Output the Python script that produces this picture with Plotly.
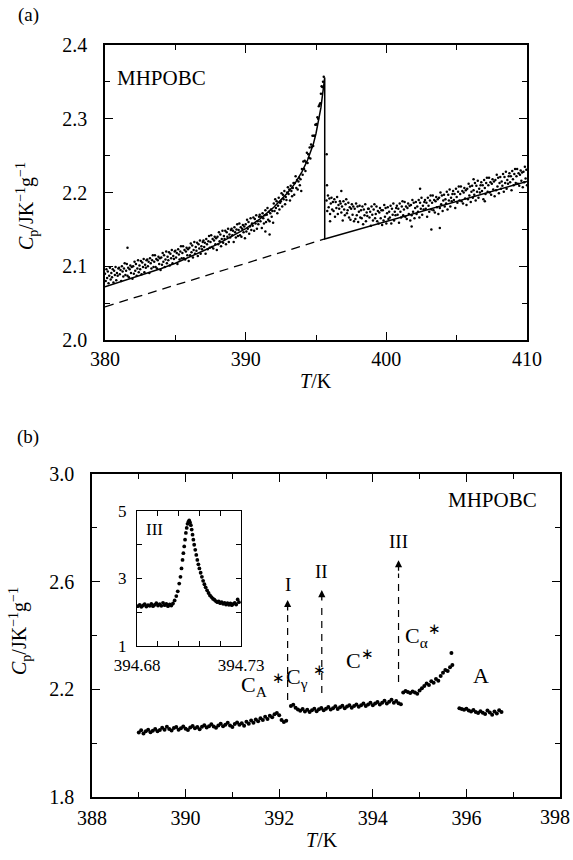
import numpy as np
import plotly.graph_objects as go

FONT = "Liberation Serif"

# ---------------- Panel (a) data ----------------
a_T_left = np.round(np.arange(380.0, 395.551, 0.05), 2)
a_cp_left = [
    2.090, 2.080, 2.096, 2.084, 2.093, 2.077, 2.087, 2.098, 2.082, 2.091,
    2.085, 2.096, 2.078, 2.094, 2.088, 2.099, 2.081, 2.091, 2.087, 2.097,
    2.098, 2.089, 2.095, 2.080, 2.100, 2.093, 2.086, 2.097, 2.104, 2.088,
    2.094, 2.103, 2.087, 2.098, 2.085, 2.096, 2.101, 2.091, 2.099, 2.083,
    2.100, 2.090, 2.106, 2.094, 2.103, 2.087, 2.097, 2.108, 2.092, 2.101,
    2.096, 2.107, 2.089, 2.105, 2.099, 2.110, 2.092, 2.102, 2.098, 2.108,
    2.109, 2.100, 2.106, 2.091, 2.111, 2.104, 2.097, 2.108, 2.115, 2.099,
    2.106, 2.115, 2.099, 2.110, 2.097, 2.108, 2.113, 2.103, 2.111, 2.095,
    2.112, 2.102, 2.118, 2.106, 2.115, 2.099, 2.109, 2.120, 2.104, 2.113,
    2.108, 2.119, 2.101, 2.117, 2.111, 2.122, 2.104, 2.114, 2.110, 2.120,
    2.121, 2.112, 2.118, 2.103, 2.123, 2.116, 2.109, 2.120, 2.127, 2.111,
    2.118, 2.127, 2.111, 2.122, 2.109, 2.120, 2.125, 2.115, 2.123, 2.107,
    2.125, 2.115, 2.131, 2.119, 2.128, 2.112, 2.122, 2.133, 2.117, 2.126,
    2.121, 2.132, 2.114, 2.130, 2.124, 2.135, 2.117, 2.127, 2.123, 2.133,
    2.135, 2.126, 2.132, 2.117, 2.137, 2.130, 2.123, 2.134, 2.141, 2.125,
    2.133, 2.142, 2.126, 2.137, 2.124, 2.135, 2.140, 2.130, 2.138, 2.122,
    2.140, 2.130, 2.146, 2.134, 2.143, 2.127, 2.137, 2.148, 2.132, 2.141,
    2.137, 2.148, 2.130, 2.146, 2.140, 2.151, 2.133, 2.143, 2.139, 2.149,
    2.151, 2.142, 2.148, 2.133, 2.153, 2.146, 2.139, 2.150, 2.157, 2.141,
    2.149, 2.158, 2.142, 2.153, 2.140, 2.151, 2.156, 2.146, 2.154, 2.138,
    2.157, 2.147, 2.163, 2.151, 2.160, 2.144, 2.154, 2.165, 2.149, 2.158,
    2.155, 2.166, 2.148, 2.164, 2.158, 2.169, 2.151, 2.161, 2.157, 2.167,
    2.170, 2.161, 2.167, 2.152, 2.172, 2.165, 2.158, 2.169, 2.176, 2.160,
    2.170, 2.179, 2.163, 2.174, 2.161, 2.172, 2.177, 2.167, 2.175, 2.159,
    2.185, 2.175, 2.191, 2.179, 2.188, 2.172, 2.182, 2.193, 2.177, 2.186,
    2.188, 2.199, 2.181, 2.197, 2.191, 2.202, 2.184, 2.194, 2.190, 2.200,
    2.207, 2.198, 2.204, 2.189, 2.209, 2.202, 2.195, 2.206, 2.213, 2.197,
    2.213, 2.222, 2.206, 2.217, 2.204, 2.215, 2.220, 2.210, 2.218, 2.202,
    2.232, 2.224, 2.242, 2.232, 2.243, 2.229, 2.241, 2.254, 2.240, 2.252,
    2.247, 2.261, 2.246, 2.265, 2.262, 2.277, 2.263, 2.277, 2.277, 2.292,
    2.292, 2.293, 2.302, 2.300, 2.317, 2.319, 2.321, 2.334, 2.344, 2.343,
    2.350, 2.357,
]
a_T_right = np.round(np.arange(395.75, 410.001, 0.05), 2)
a_cp_right = [
    2.189, 2.175, 2.196, 2.180, 2.192, 2.171, 2.185, 2.193, 2.177, 2.187,
    2.175, 2.191, 2.167, 2.187, 2.179, 2.194, 2.171, 2.183, 2.178, 2.188,
    2.185, 2.173, 2.181, 2.162, 2.188, 2.177, 2.169, 2.184, 2.191, 2.172,
    2.176, 2.186, 2.166, 2.180, 2.163, 2.178, 2.184, 2.170, 2.181, 2.161,
    2.178, 2.164, 2.185, 2.169, 2.181, 2.160, 2.174, 2.182, 2.166, 2.176,
    2.165, 2.181, 2.157, 2.177, 2.169, 2.184, 2.161, 2.173, 2.168, 2.178,
    2.178, 2.166, 2.174, 2.155, 2.181, 2.170, 2.162, 2.177, 2.184, 2.165,
    2.171, 2.181, 2.161, 2.175, 2.158, 2.173, 2.179, 2.165, 2.176, 2.156,
    2.176, 2.162, 2.183, 2.167, 2.179, 2.158, 2.172, 2.180, 2.164, 2.174,
    2.166, 2.182, 2.158, 2.178, 2.170, 2.185, 2.162, 2.174, 2.169, 2.179,
    2.182, 2.170, 2.178, 2.159, 2.185, 2.174, 2.166, 2.181, 2.188, 2.169,
    2.177, 2.187, 2.167, 2.181, 2.164, 2.179, 2.185, 2.171, 2.182, 2.162,
    2.183, 2.169, 2.190, 2.174, 2.186, 2.165, 2.179, 2.187, 2.171, 2.181,
    2.174, 2.190, 2.166, 2.186, 2.178, 2.193, 2.170, 2.182, 2.177, 2.187,
    2.190, 2.178, 2.186, 2.167, 2.193, 2.182, 2.174, 2.189, 2.196, 2.177,
    2.186, 2.196, 2.176, 2.190, 2.173, 2.188, 2.194, 2.180, 2.191, 2.171,
    2.193, 2.179, 2.200, 2.184, 2.196, 2.175, 2.189, 2.197, 2.181, 2.191,
    2.185, 2.201, 2.177, 2.197, 2.189, 2.204, 2.181, 2.193, 2.188, 2.198,
    2.202, 2.190, 2.198, 2.179, 2.205, 2.194, 2.186, 2.201, 2.208, 2.189,
    2.198, 2.208, 2.188, 2.202, 2.185, 2.200, 2.206, 2.192, 2.203, 2.183,
    2.205, 2.191, 2.212, 2.196, 2.208, 2.187, 2.201, 2.209, 2.193, 2.203,
    2.197, 2.213, 2.189, 2.209, 2.201, 2.216, 2.193, 2.205, 2.200, 2.210,
    2.214, 2.202, 2.210, 2.191, 2.217, 2.206, 2.198, 2.213, 2.220, 2.201,
    2.210, 2.220, 2.200, 2.214, 2.197, 2.212, 2.218, 2.204, 2.215, 2.195,
    2.217, 2.203, 2.224, 2.208, 2.220, 2.199, 2.213, 2.221, 2.205, 2.215,
    2.209, 2.225, 2.201, 2.221, 2.213, 2.228, 2.205, 2.217, 2.212, 2.222,
    2.226, 2.214, 2.222, 2.203, 2.229, 2.218, 2.210, 2.225, 2.232, 2.213,
    2.222, 2.232, 2.212, 2.226, 2.209, 2.224, 2.230, 2.216, 2.227, 2.207,
    2.228, 2.214, 2.235, 2.219, 2.231, 2.210,
]
a_T_out = [381.6, 391.4, 391.7, 395.76, 395.78, 396.0, 396.8, 401.8, 402.4, 403.2, 403.8, 406.2, 407.0]
a_cp_out = [2.125, 2.147, 2.143, 2.252, 2.210, 2.161, 2.202, 2.154, 2.205, 2.150, 2.152, 2.218, 2.188]

a_fit_T = [380, 381, 382, 383, 384, 385, 386, 387, 388, 389, 390, 391, 392, 392.5,
           393, 393.5, 394, 394.4, 394.8, 395.0, 395.2, 395.35, 395.5, 395.62,
           395.62, 410.0]
a_fit_cp = [2.072, 2.078, 2.084, 2.090, 2.097, 2.104, 2.112, 2.121, 2.130, 2.140,
            2.151, 2.164, 2.180, 2.190, 2.200, 2.212, 2.228, 2.244, 2.265, 2.280,
            2.298, 2.315, 2.338, 2.356, 2.137, 2.215]
a_base_T = [380.0, 395.62]
a_base_cp = [2.045, 2.137]

# ---------------- Panel (b) data ----------------
b_T = np.concatenate([
    np.round(np.arange(389.0, 392.151, 0.05), 2),
    np.round(np.arange(392.25, 394.601, 0.05), 2),
    np.round(np.arange(394.65, 395.701, 0.05), 2),
    np.round(np.arange(395.85, 396.751, 0.05), 2),
    [395.68],
])
b_cp = [
    2.040, 2.048, 2.036, 2.044, 2.050, 2.041, 2.046, 2.053, 2.044, 2.049,
    2.057, 2.050, 2.061, 2.053, 2.047, 2.056, 2.060, 2.050, 2.055, 2.062,
    2.054, 2.049, 2.058, 2.064, 2.055, 2.060, 2.052, 2.061, 2.067, 2.058,
    2.063, 2.070, 2.062, 2.057, 2.066, 2.072, 2.063, 2.068, 2.076, 2.066,
    2.060, 2.071, 2.077, 2.068, 2.074, 2.065, 2.080, 2.072, 2.084, 2.076,
    2.088, 2.081, 2.093, 2.086, 2.098, 2.090, 2.102, 2.096, 2.107, 2.112,
    2.104, 2.086, 2.079, 2.083,
    2.138, 2.143, 2.132, 2.125, 2.120, 2.127, 2.118, 2.124, 2.116, 2.122,
    2.128, 2.119, 2.126, 2.131, 2.122, 2.128, 2.134, 2.125, 2.130, 2.137,
    2.127, 2.133, 2.139, 2.130, 2.136, 2.141, 2.132, 2.138, 2.144, 2.135,
    2.141, 2.147, 2.138, 2.144, 2.150, 2.141, 2.147, 2.153, 2.144, 2.150,
    2.158, 2.147, 2.154, 2.161, 2.150, 2.157, 2.148, 2.145,
    2.188, 2.194, 2.190, 2.186, 2.192, 2.188, 2.184, 2.196, 2.204, 2.212,
    2.222, 2.216, 2.230, 2.224, 2.238, 2.232, 2.250, 2.262, 2.272, 2.268,
    2.282, 2.290,
    2.130, 2.127, 2.124, 2.128, 2.121, 2.118, 2.123, 2.116, 2.112, 2.119,
    2.113, 2.108, 2.121, 2.114, 2.106, 2.118, 2.110, 2.122, 2.116,
    2.335,
]
b_xtick_vals = [388, 390, 392, 394, 396, 398]
b_xtick_text = ["388", "390", "392", "394", "396", ""]
b_last_tick_label = "398"

# inset (transition III)
in_T = [394.6805, 394.6813, 394.6821, 394.6829, 394.6837, 394.6845, 394.6853, 394.6861,
        394.6869, 394.6877, 394.6885, 394.6893, 394.6901, 394.6909, 394.6917, 394.6925,
        394.6933, 394.6941, 394.6949, 394.6957, 394.6965, 394.6973,
        394.6981, 394.6989, 394.6996, 394.7003, 394.7009, 394.7014, 394.7019, 394.7023,
        394.7027, 394.7031, 394.7035, 394.7039, 394.7043, 394.7047, 394.7051, 394.7055,
        394.7059, 394.7063, 394.7067, 394.7071, 394.7075, 394.7080, 394.7085, 394.7090,
        394.7095, 394.7100, 394.7106, 394.7112, 394.7118, 394.7124, 394.7130, 394.7137,
        394.7144, 394.7151, 394.7158, 394.7165, 394.7172, 394.7179, 394.7186, 394.7193,
        394.7200, 394.7207, 394.7214, 394.7221, 394.7228, 394.7235, 394.7242, 394.7249,
        394.7256, 394.7263, 394.7270, 394.7277, 394.7284, 394.7290]
in_cp = [2.18, 2.22, 2.16, 2.20, 2.24, 2.17, 2.21, 2.19, 2.25, 2.18, 2.22, 2.27, 2.20,
         2.24, 2.19, 2.28, 2.21, 2.25, 2.18, 2.23, 2.20, 2.26,
         2.35, 2.48, 2.62, 2.85, 3.05, 3.30, 3.55, 3.75, 3.95, 4.15, 4.35, 4.50, 4.62,
         4.68, 4.72, 4.66, 4.58, 4.45, 4.30, 4.15, 4.00, 3.85, 3.70, 3.55, 3.42, 3.30,
         3.17, 3.05, 2.93, 2.83, 2.74, 2.65, 2.57, 2.50, 2.45, 2.40, 2.37, 2.33, 2.30,
         2.32, 2.27, 2.30, 2.25, 2.28, 2.23, 2.27, 2.22, 2.26, 2.21, 2.25, 2.28, 2.23,
         2.38, 2.30]

# transition markers I, II, III
mark_names = ["I", "II", "III"]
mark_T = [392.18, 392.91, 394.55]
mark_bottom = [2.160, 2.186, 2.227]
mark_tip = [2.532, 2.569, 2.680]
mark_label_y = [2.590, 2.636, 2.750]

# phase labels
STAR = "\u2217"
phase_text = ["C<sub>A</sub> <sup>" + STAR + "</sup>", "C<sub>γ</sub> <sup>" + STAR + "</sup>",
              "C<sup>" + STAR + "</sup>", "C<sub>α</sub><sup>" + STAR + "</sup>", "A"]
phase_T = [391.65, 392.57, 393.73, 395.07, 396.31]
phase_cp = [2.218, 2.248, 2.312, 2.40, 2.253]

# ---------------- Figure ----------------
fig = go.Figure()
dot = dict(color="black", size=2.5)
fig.add_trace(go.Scatter(x=a_T_left, y=a_cp_left, mode="markers", marker=dot, xaxis="x", yaxis="y"))
fig.add_trace(go.Scatter(x=a_T_right, y=a_cp_right, mode="markers", marker=dot, xaxis="x", yaxis="y"))
fig.add_trace(go.Scatter(x=a_T_out, y=a_cp_out, mode="markers", marker=dot, xaxis="x", yaxis="y"))
fig.add_trace(go.Scatter(x=a_fit_T, y=a_fit_cp, mode="lines", line=dict(color="black", width=1.5),
                         xaxis="x", yaxis="y"))
fig.add_trace(go.Scatter(x=a_base_T, y=a_base_cp, mode="lines",
                         line=dict(color="black", width=1.3, dash="9px,6px"), xaxis="x", yaxis="y"))

fig.add_trace(go.Scatter(x=b_T, y=b_cp, mode="markers", marker=dict(color="black", size=4),
                         xaxis="x2", yaxis="y2"))
fig.add_trace(go.Scatter(x=in_T, y=in_cp, mode="markers", marker=dict(color="black", size=3.8),
                         xaxis="x3", yaxis="y3"))

tickfont = dict(family=FONT, size=20, color="black")
common = dict(showline=True, linecolor="black", linewidth=1.5, mirror="ticks", ticks="inside",
              tickcolor="black", tickwidth=1.3, showgrid=False, zeroline=False,
              tickfont=tickfont, automargin=False, fixedrange=True, ticklabeloverflow="allow")

fig.update_layout(
    width=573, height=860, margin=dict(l=0, r=0, t=0, b=0),
    paper_bgcolor="white", plot_bgcolor="white", showlegend=False,
    font=dict(family=FONT, color="black"),
    xaxis=dict(domain=[105/573, 527/573], range=[380, 410], dtick=10, ticklen=8,
               minor=dict(dtick=5, ticklen=5, ticks="inside", tickcolor="black"),
               anchor="y", ticklabelstandoff=0, **common),
    yaxis=dict(domain=[1-340/860, 1-45/860], range=[2.0, 2.4], dtick=0.1, tickformat=".1f",
               ticklen=8, minor=dict(dtick=0.05, ticklen=5, ticks="inside", tickcolor="black"),
               anchor="x", ticklabelstandoff=12, **common),
    xaxis2=dict(domain=[92/573, 560/573], range=[388, 398], tickvals=b_xtick_vals,
                ticktext=b_xtick_text, ticklen=8,
                minor=dict(dtick=1, ticklen=5, ticks="inside", tickcolor="black"),
                anchor="y2", ticklabelstandoff=2, **common),
    yaxis2=dict(domain=[1-797/860, 1-474/860], range=[1.8, 3.0], tick0=1.8, dtick=0.4,
                tickformat=".1f", ticklen=8,
                minor=dict(tick0=1.8, dtick=0.2, ticklen=5, ticks="inside", tickcolor="black"),
                anchor="x2", ticklabelstandoff=12, **common),
)
inset_common = dict(common)
inset_common["tickfont"] = dict(family=FONT, size=17, color="black")
inset_common["linewidth"] = 1.3
fig.update_layout(
    xaxis3=dict(domain=[137/573, 241/573], range=[394.68, 394.73],
                tickvals=[394.68, 394.73], ticktext=["394.68", "394.73"], ticklen=5,
                minor=dict(tickvals=[394.69, 394.70, 394.71, 394.72], ticklen=5,
                           ticks="inside", tickcolor="black"),
                anchor="y3", ticklabelstandoff=3, **inset_common),
    yaxis3=dict(domain=[1-646/860, 1-511/860], range=[1, 5], tickvals=[1, 3, 5], ticklen=5,
                minor=dict(tickvals=[2, 4], ticklen=5, ticks="inside", tickcolor="black"),
                anchor="x3", ticklabelstandoff=6, **inset_common),
)

ann = []
def paper_text(text, x, y, size=19, angle=0, xanchor="center"):
    ann.append(dict(text=text, x=x/573, y=1-y/860, xref="paper", yref="paper", showarrow=False,
                    font=dict(family=FONT, size=size, color="black"), textangle=angle,
                    xanchor=xanchor, yanchor="middle"))

paper_text("(a)", 28, 15, 19)
paper_text("(b)", 28, 437, 19)
paper_text("<i>T</i>/K", 316, 381, 20)
paper_text("<i>T</i>/K", 322, 840, 20)
paper_text("<i>C</i><sub>p</sub>/JK<sup>−1</sup>g<sup>−1</sup>", 27, 206, 20, -90)
paper_text("<i>C</i><sub>p</sub>/JK<sup>−1</sup>g<sup>−1</sup>", 20, 631, 20, -90)
paper_text(b_last_tick_label, 572, 817, 20, 0, "right")

ann.append(dict(text="MHPOBC", x=384.05, y=2.355, xref="x", yref="y", showarrow=False,
                font=dict(family=FONT, size=21, color="black")))
ann.append(dict(text="MHPOBC", x=396.55, y=2.903, xref="x2", yref="y2", showarrow=False,
                font=dict(family=FONT, size=21, color="black")))
ann.append(dict(text="III", x=394.6885, y=4.45, xref="x3", yref="y3", showarrow=False,
                font=dict(family=FONT, size=17, color="black")))

shapes = []
for name, t, b, tip, ly in zip(mark_names, mark_T, mark_bottom, mark_tip, mark_label_y):
    shapes.append(dict(type="line", x0=t, x1=t, y0=b, y1=tip - 0.05, xref="x2", yref="y2",
                       line=dict(color="black", width=1.2, dash="7px,6px")))
    ann.append(dict(x=t, y=tip, ax=t, ay=tip - 0.045, xref="x2", yref="y2", axref="x2", ayref="y2",
                    showarrow=True, arrowhead=2, arrowsize=1.1, arrowwidth=1.3, arrowcolor="black",
                    text=""))
    ann.append(dict(text=name, x=t, y=ly, xref="x2", yref="y2", showarrow=False,
                    font=dict(family=FONT, size=19, color="black")))

for txt, t, c in zip(phase_text, phase_T, phase_cp):
    ann.append(dict(text=txt, x=t, y=c, xref="x2", yref="y2", showarrow=False,
                    font=dict(family=FONT, size=22, color="black")))

fig.update_layout(annotations=ann, shapes=shapes)
fig.write_html("out.html", config={"displayModeBar": False},
               post_script="document.body.style.margin='0';document.body.style.overflow='hidden';")
